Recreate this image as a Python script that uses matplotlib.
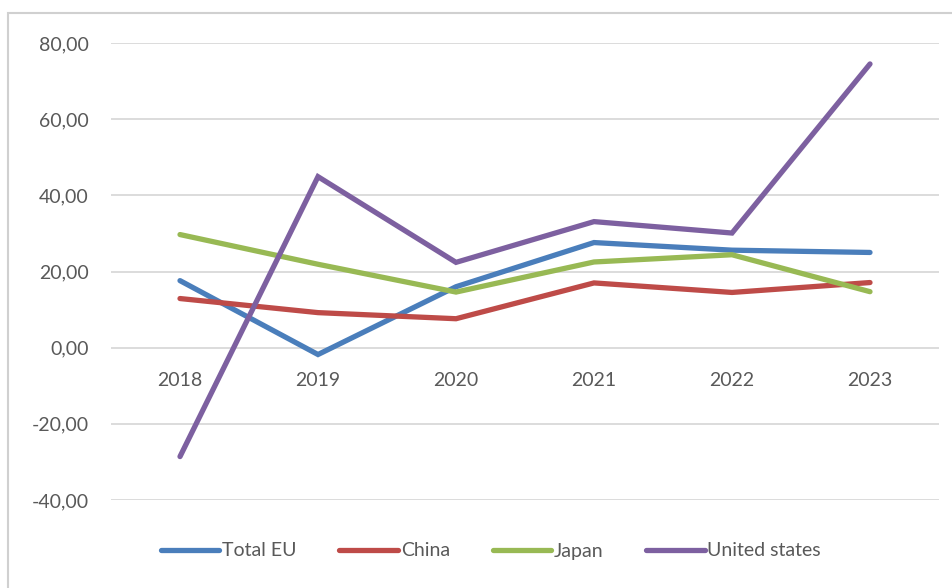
import matplotlib.pyplot as plt
from matplotlib.patches import Rectangle
from matplotlib.ticker import FuncFormatter

plt.rcParams['font.family'] = ['Lato', 'DejaVu Sans']

years = ['2018', '2019', '2020', '2021', '2022', '2023']
total_eu = [17.6, -1.8, 16.0, 27.6, 25.6, 25.0]
china = [12.9, 9.2, 7.6, 17.0, 14.5, 17.1]
japan = [29.7, 21.9, 14.6, 22.5, 24.4, 14.7]
united_states = [-28.6, 44.9, 22.4, 33.1, 30.1, 74.5]

series = [('Total EU', total_eu, '#4a7ebb'),
          ('China', china, '#be4b48'),
          ('Japan', japan, '#98b954'),
          ('United states', united_states, '#7d60a0')]

fig = plt.figure(figsize=(9.53, 5.88), dpi=100)
# chart border (only top and left edges fall inside the picture)
fig.patches.append(Rectangle((8/953, -0.05), 1.0, 1 - 13/588 + 0.05, transform=fig.transFigure,
                             fill=False, edgecolor='#d0d0d0', lw=1.5))
ax = fig.add_axes([111/953, 88/588, 828/953, 457/588])

x = list(range(len(years)))
for name, vals, col in series:
    ax.plot(x, vals, color=col, lw=3.8, label=name, solid_capstyle='round', solid_joinstyle='miter')

ax.set_ylim(-40, 80)
ax.set_yticks([-40, -20, 0, 20, 40, 60, 80])
ax.yaxis.set_major_formatter(FuncFormatter(lambda v, p: ('%.2f' % v).replace('.', ',')))
ax.set_xlim(-0.5, 5.5)
ax.grid(axis='y', color='#d9d9d9', lw=1.3)
ax.set_axisbelow(True)
for s in ax.spines.values():
    s.set_visible(False)
ax.tick_params(axis='y', length=0, pad=16, labelsize=14, labelcolor='#595959')
ax.set_xticks([])
for i, yr in enumerate(years):
    ax.annotate(yr, xy=(i, 0), xytext=(0, -24), textcoords='offset points',
                ha='center', va='center', fontsize=14, color='#595959')

fig.legend(loc='center', bbox_to_anchor=(491/953, 1 - 551/588), ncol=4, frameon=False,
           fontsize=14, labelcolor='#595959', handlelength=3.0, handletextpad=0.15,
           columnspacing=2.2)

fig.savefig('out.png', dpi=100)
